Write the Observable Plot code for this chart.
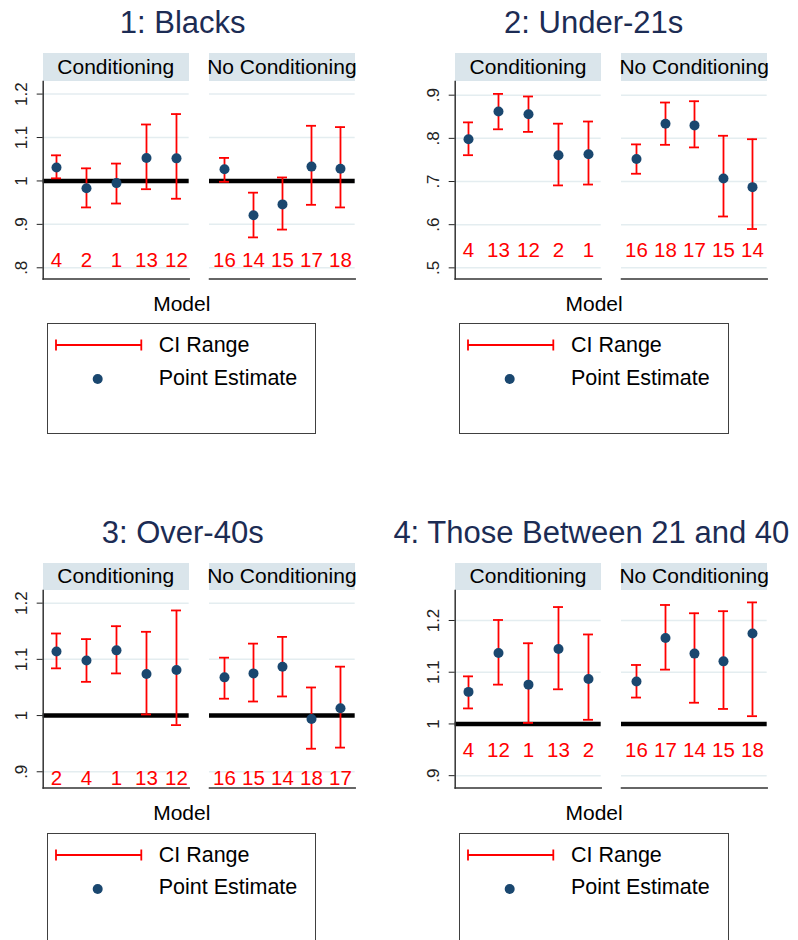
<!DOCTYPE html>
<html><head><meta charset="utf-8">
<script src="https://cdn.jsdelivr.net/npm/d3@7"></script>
<script src="https://cdn.jsdelivr.net/npm/@observablehq/plot@0.6"></script>
<style>
html,body{margin:0;padding:0;background:#fff;}
#root{position:relative;width:798px;height:940px;overflow:hidden;font-family:"Liberation Sans",Arial,sans-serif;}
.abs{position:absolute;white-space:nowrap;}
</style></head><body><div id="root"></div>
<script>
// ---------- data ----------
const groups = ["Conditioning", "No Conditioning"];
const titles = ["1: Blacks", "2: Under-21s", "3: Over-40s", "4: Those Between 21 and 40"];
const legendLabels = ["CI Range", "Point Estimate"];
const xTitle = "Model";

// first five = Conditioning, last five = No Conditioning
const p1Models = ["4","2","1","13","12","16","14","15","17","18"];
const p1Est = [1.031, 0.983, 0.995, 1.053, 1.052, 1.027, 0.921, 0.946, 1.033, 1.028];
const p1Lo  = [1.006, 0.939, 0.948, 0.981, 0.959, 0.998, 0.870, 0.888, 0.945, 0.939];
const p1Hi  = [1.059, 1.029, 1.040, 1.130, 1.154, 1.053, 0.973, 1.008, 1.127, 1.124];
const p1Ticks = [0.8, 0.9, 1, 1.1, 1.2];

const p2Models = ["4","13","12","2","1","16","18","17","15","14"];
const p2Est = [0.798, 0.862, 0.856, 0.761, 0.763, 0.752, 0.834, 0.830, 0.707, 0.687];
const p2Lo  = [0.761, 0.821, 0.815, 0.691, 0.693, 0.718, 0.785, 0.779, 0.619, 0.590];
const p2Hi  = [0.837, 0.903, 0.897, 0.834, 0.839, 0.786, 0.883, 0.886, 0.806, 0.798];
const p2Ticks = [0.5, 0.6, 0.7, 0.8, 0.9];

const p3Models = ["2","4","1","13","12","16","15","14","18","17"];
const p3Est = [1.114, 1.098, 1.116, 1.074, 1.081, 1.068, 1.075, 1.087, 0.994, 1.013];
const p3Lo  = [1.084, 1.060, 1.075, 1.002, 0.983, 1.030, 1.025, 1.034, 0.941, 0.943];
const p3Hi  = [1.146, 1.136, 1.159, 1.149, 1.187, 1.103, 1.128, 1.140, 1.050, 1.087];
const p3Ticks = [0.9, 1, 1.1, 1.2];

const p4Models = ["4","12","1","13","2","16","17","14","15","18"];
const p4Est = [1.062, 1.137, 1.076, 1.145, 1.087, 1.082, 1.166, 1.136, 1.121, 1.175];
const p4Lo  = [1.030, 1.076, 1.002, 1.067, 1.008, 1.051, 1.105, 1.041, 1.029, 1.015];
const p4Hi  = [1.092, 1.201, 1.156, 1.226, 1.173, 1.114, 1.230, 1.214, 1.218, 1.235];
const p4Ticks = [0.9, 1, 1.1, 1.2];

const refValue = 1;

// ---------- layout & style ----------
const FONT = '"Liberation Sans", Arial, sans-serif';
const C = {title: "#1c2c54", strip: "#dae5eb", grid: "#e4edf0", ci: "#ff0000", dot: "#1a476f", axis: "#333"};

const panels = [
  {title: titles[0], models: p1Models, est: p1Est, lo: p1Lo, hi: p1Hi, ticks: p1Ticks, yDomain: [0.774, 1.229], labelAt: 0.818, dx: 0,     dy: 0,     titleX: 182.7},
  {title: titles[1], models: p2Models, est: p2Est, lo: p2Lo, hi: p2Hi, ticks: p2Ticks, yDomain: [0.474, 0.9317], labelAt: 0.540, dx: 412.3, dy: 0,     titleX: 593.7},
  {title: titles[2], models: p3Models, est: p3Est, lo: p3Lo, hi: p3Hi, ticks: p3Ticks, yDomain: [0.871, 1.2225], labelAt: 0.889, dx: 0,     dy: 509.5, titleX: 182.7},
  {title: titles[3], models: p4Models, est: p4Est, lo: p4Lo, hi: p4Hi, ticks: p4Ticks, yDomain: [0.876, 1.258], labelAt: 0.949, dx: 412.3, dy: 509.5, titleX: 591.3}
];

const G = {
  titleBase: 33.3, titleSize: 31,
  stripTop: 53.3, plotTop: 80.7, plotBottom: 278.3, stripBase: 73.3, stripSize: 21,
  axisX: 42.7, facetW: [146, 145.7], facet2Left: 209,
  modelX: 181.8, modelBase: 310.7, modelSize: 21,
  legLeft: 46.7, legTop: 323.3, legW: 269.5, legH: 110.7,
  ciY: 345, ciX1: 56, ciX2: 141.3, dotX: 97.7, dotY: 379, legTextX: 158.7, legBase: [353.3, 386], legSize: 21.5
};

const root = document.getElementById("root");
function addText(txt, x, base, size, {anchor = "middle", color = "#000"} = {}) {
  const d = document.createElement("div");
  d.className = "abs";
  d.textContent = txt;
  d.style.fontSize = size + "px";
  d.style.lineHeight = size + "px";
  d.style.color = color;
  d.style.top = (base - 0.8465 * size) + "px";
  d.style.left = x + "px";
  if (anchor === "middle") d.style.transform = "translateX(-50%)";
  root.appendChild(d);
  return d;
}
function addBox(x, y, w, h, css) {
  const d = document.createElement("div");
  d.className = "abs";
  Object.assign(d.style, {left: x + "px", top: y + "px", width: w + "px", height: h + "px"}, css);
  root.appendChild(d);
  return d;
}
const fmt = v => {
  const s = d3.format("~g")(v);
  return s.startsWith("0.") ? s.slice(1) : s;
};

function facetPlot(p, gi) {
  const isLeft = gi === 0;
  const data = d3.range(gi * 5, gi * 5 + 5).map(i => ({model: p.models[i], est: p.est[i], lo: p.lo[i], hi: p.hi[i]}));
  const mt = 8, mb = 8;
  const plotH = G.plotBottom - G.plotTop;
  const refs = [refValue].filter(v => v >= p.yDomain[0] && v <= p.yDomain[1]);
  return Plot.plot({
    width: (isLeft ? G.axisX : 0) + G.facetW[gi],
    height: plotH + mt + mb,
    marginLeft: isLeft ? G.axisX : 0, marginRight: 0, marginTop: mt, marginBottom: mb,
    style: {background: "transparent", overflow: "visible", fontFamily: FONT, maxWidth: "none"},
    x: {type: "point", domain: data.map(d => d.model), padding: 0.43, axis: null},
    y: {domain: p.yDomain, axis: null},
    marks: [
      Plot.gridY(p.ticks, {stroke: C.grid, strokeOpacity: 1, strokeWidth: 1.5}),
      Plot.ruleY(refs, {stroke: "#000", strokeWidth: 4.5}),
      Plot.frame({anchor: "bottom", stroke: C.axis, strokeWidth: 1.5}),
      isLeft ? Plot.frame({anchor: "left", stroke: C.axis, strokeWidth: 1.5}) : null,
      isLeft ? Plot.axisY(p.ticks, {tickSize: 6, tickRotate: -90, tickPadding: 10, fontSize: 17, tickFormat: fmt, color: "#222"}) : null,
      Plot.ruleX(data, {x: "model", y1: "lo", y2: "hi", stroke: C.ci, strokeWidth: 1.8}),
      Plot.ruleY(data, {x1: "model", x2: "model", y: "hi", stroke: C.ci, strokeWidth: 1.8, insetLeft: -5, insetRight: -5}),
      Plot.ruleY(data, {x1: "model", x2: "model", y: "lo", stroke: C.ci, strokeWidth: 1.8, insetLeft: -5, insetRight: -5}),
      Plot.dot(data, {x: "model", y: "est", r: 5, fill: C.dot}),
      Plot.text(data, {x: "model", y: () => p.labelAt, text: "model", fill: C.ci, fontSize: 20.5})
    ]
  });
}

for (const p of panels) {
  const ox = p.dx, oy = p.dy;
  addText(p.title, p.titleX, oy + G.titleBase, G.titleSize, {color: C.title});
  groups.forEach((g, gi) => {
    const left = ox + (gi === 0 ? G.axisX : G.facet2Left);
    addBox(left, oy + G.stripTop, G.facetW[gi], G.plotTop - G.stripTop, {background: C.strip});
    addText(g, left + G.facetW[gi] / 2, oy + G.stripBase, G.stripSize);
    const svg = facetPlot(p, gi);
    const holder = document.createElement("div");
    holder.className = "abs";
    holder.style.left = (gi === 0 ? ox : left) + "px";
    holder.style.top = (oy + G.plotTop - 8) + "px";
    holder.appendChild(svg);
    root.appendChild(holder);
  });
  addText(xTitle, ox + G.modelX, oy + G.modelBase, G.modelSize);
  // legend
  addBox(ox + G.legLeft, oy + G.legTop, G.legW, G.legH, {border: "1px solid #404040", boxSizing: "border-box", background: "#fff"});
  const ns = "http://www.w3.org/2000/svg";
  const lsvg = document.createElementNS(ns, "svg");
  lsvg.setAttribute("width", 120); lsvg.setAttribute("height", 60);
  lsvg.style.position = "absolute";
  lsvg.style.left = (ox + G.ciX1 - 5) + "px";
  lsvg.style.top = (oy + G.ciY - 10) + "px";
  const mk = (tag, attrs) => { const e = document.createElementNS(ns, tag); for (const k in attrs) e.setAttribute(k, attrs[k]); lsvg.appendChild(e); };
  const w = G.ciX2 - G.ciX1;
  mk("line", {x1: 5, x2: 5 + w, y1: 10, y2: 10, stroke: C.ci, "stroke-width": 1.8});
  mk("line", {x1: 5, x2: 5, y1: 4.5, y2: 15.5, stroke: C.ci, "stroke-width": 1.8});
  mk("line", {x1: 5 + w, x2: 5 + w, y1: 4.5, y2: 15.5, stroke: C.ci, "stroke-width": 1.8});
  mk("circle", {cx: 5 + (G.dotX - G.ciX1), cy: 10 + (G.dotY - G.ciY), r: 5, fill: C.dot});
  root.appendChild(lsvg);
  legendLabels.forEach((t, i) => addText(t, ox + G.legTextX, oy + G.legBase[i], G.legSize, {anchor: "start"}));
}
</script></body></html>
